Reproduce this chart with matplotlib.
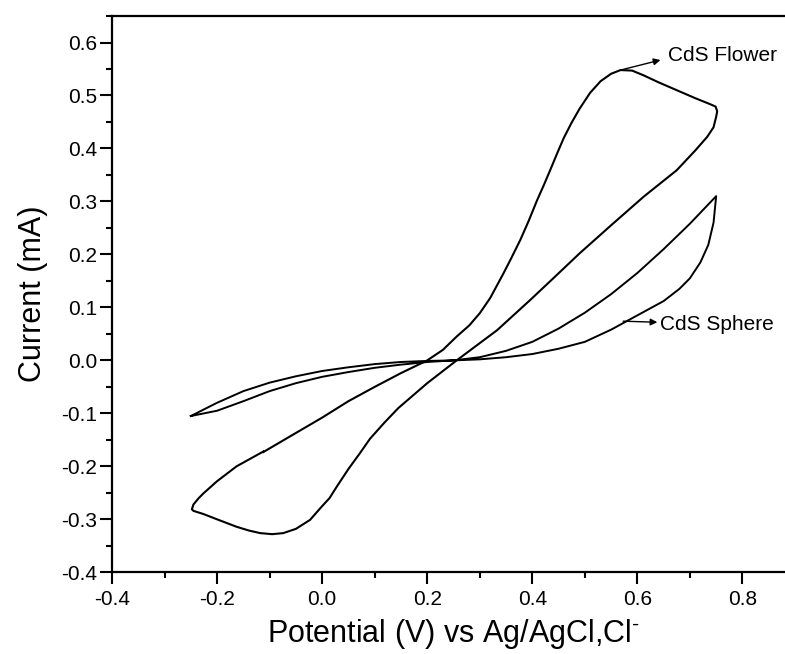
import matplotlib
matplotlib.use("Agg")
import matplotlib.pyplot as plt
from matplotlib.ticker import MultipleLocator, FormatStrFormatter

plt.rcParams["font.family"] = ["Liberation Sans", "DejaVu Sans"]
plt.rcParams["mathtext.fontset"] = "custom"
plt.rcParams["mathtext.rm"] = "Liberation Sans"
plt.rcParams["mathtext.it"] = "Liberation Sans"

# CdS flower: starts at -0.11 V, forward scan up to 0.75 V, back to -0.25 V, forward again
flower_v = [-0.112, -0.05, 0.0, 0.05, 0.1, 0.15, 0.2, 0.23, 0.256, 0.28, 0.3, 0.32,
            0.345, 0.36, 0.377, 0.393, 0.409, 0.422, 0.434, 0.447, 0.46, 0.475, 0.49,
            0.51, 0.53, 0.55, 0.568, 0.59, 0.612, 0.64, 0.675, 0.71, 0.74, 0.749, 0.752,
            0.75, 0.745, 0.733, 0.71, 0.675, 0.612, 0.55, 0.49, 0.44, 0.396, 0.333,
            0.256, 0.2, 0.145, 0.118, 0.091, 0.072, 0.05, 0.028, 0.014, 0.0, -0.023,
            -0.05, -0.074, -0.095, -0.118, -0.14, -0.163, -0.2, -0.226, -0.245, -0.248,
            -0.245, -0.235, -0.226, -0.2, -0.163, -0.112]
flower_i = [-0.173, -0.137, -0.108, -0.077, -0.05, -0.024, 0.0, 0.02, 0.045, 0.066,
            0.089, 0.118, 0.164, 0.193, 0.227, 0.263, 0.302, 0.331, 0.359, 0.39, 0.42,
            0.449, 0.475, 0.505, 0.527, 0.541, 0.548, 0.547, 0.538, 0.525, 0.51, 0.495,
            0.483, 0.479, 0.47, 0.46, 0.44, 0.422, 0.396, 0.359, 0.309, 0.255, 0.202,
            0.155, 0.114, 0.057, 0.0, -0.043, -0.09, -0.118, -0.148, -0.175, -0.205,
            -0.238, -0.26, -0.275, -0.301, -0.318, -0.326, -0.328, -0.326, -0.321,
            -0.314, -0.3, -0.29, -0.284, -0.281, -0.272, -0.26, -0.251, -0.228, -0.2,
            -0.172]

# CdS sphere: pinched loop between -0.25 V and 0.75 V
sphere_v = [-0.25, -0.2, -0.15, -0.1, -0.05, 0.0, 0.05, 0.1, 0.15, 0.2, 0.25, 0.3, 0.35,
            0.4, 0.45, 0.5, 0.55, 0.6, 0.65, 0.68, 0.7, 0.72, 0.735, 0.745, 0.75, 0.7,
            0.65, 0.6, 0.55, 0.5, 0.45, 0.4, 0.35, 0.3, 0.25, 0.2, 0.15, 0.1, 0.05, 0.0,
            -0.05, -0.1, -0.15, -0.2, -0.25]
sphere_i = [-0.105, -0.095, -0.077, -0.058, -0.043, -0.031, -0.022, -0.014, -0.008,
            -0.003, 0.0, 0.002, 0.006, 0.012, 0.022, 0.035, 0.058, 0.085, 0.112, 0.135,
            0.155, 0.185, 0.218, 0.26, 0.31, 0.258, 0.21, 0.165, 0.125, 0.09, 0.06,
            0.035, 0.018, 0.006, 0.0, -0.001, -0.003, -0.007, -0.013, -0.02, -0.03,
            -0.042, -0.058, -0.08, -0.105]

labels = ["CdS Flower", "CdS Sphere"]
label_xy = [(0.659, 0.576), (0.644, 0.067)]
arrow_from = [(0.568, 0.548), (0.573, 0.074)]
arrow_to = [(0.644, 0.567), (0.638, 0.072)]

fig = plt.figure(figsize=(7.85, 6.54), dpi=100)
ax = fig.add_axes([0.1427, 0.1249, 0.870, 0.8506])

ax.plot(flower_v, flower_i, color="black", lw=1.5, solid_joinstyle="round")
ax.plot(sphere_v, sphere_i, color="black", lw=1.4, solid_joinstyle="round")

for txt, (tx, ty), p0, p1 in zip(labels, label_xy, arrow_from, arrow_to):
    ax.annotate("", xy=p1, xytext=p0,
                arrowprops=dict(arrowstyle="-|>", color="black", lw=1.0,
                                mutation_scale=10, shrinkA=0, shrinkB=0))
    ax.text(tx, ty, txt, fontsize=15, va="center", ha="left")

ax.set_xlim(-0.4, 0.9)
ax.set_ylim(-0.4, 0.65)
ax.xaxis.set_major_locator(MultipleLocator(0.2))
ax.xaxis.set_minor_locator(MultipleLocator(0.1))
ax.yaxis.set_major_locator(MultipleLocator(0.1))
ax.yaxis.set_minor_locator(MultipleLocator(0.05))
ax.xaxis.set_major_formatter(FormatStrFormatter("%.1f"))
ax.yaxis.set_major_formatter(FormatStrFormatter("%.1f"))
ax.tick_params(which="both", direction="out", width=1.5, labelsize=15)
ax.tick_params(which="major", length=8.5)
ax.tick_params(which="minor", length=4.3)
ax.tick_params(axis="x", pad=4)
ax.tick_params(axis="y", pad=2)
for s in ax.spines.values():
    s.set_linewidth(1.6)

ax.set_xlabel(r"Potential (V) vs Ag/AgCl,Cl$^{\text{-}}$", fontsize=22, labelpad=6)
ax.set_ylabel("Current (mA)", fontsize=22, labelpad=10)

fig.savefig("out.png", dpi=100)
